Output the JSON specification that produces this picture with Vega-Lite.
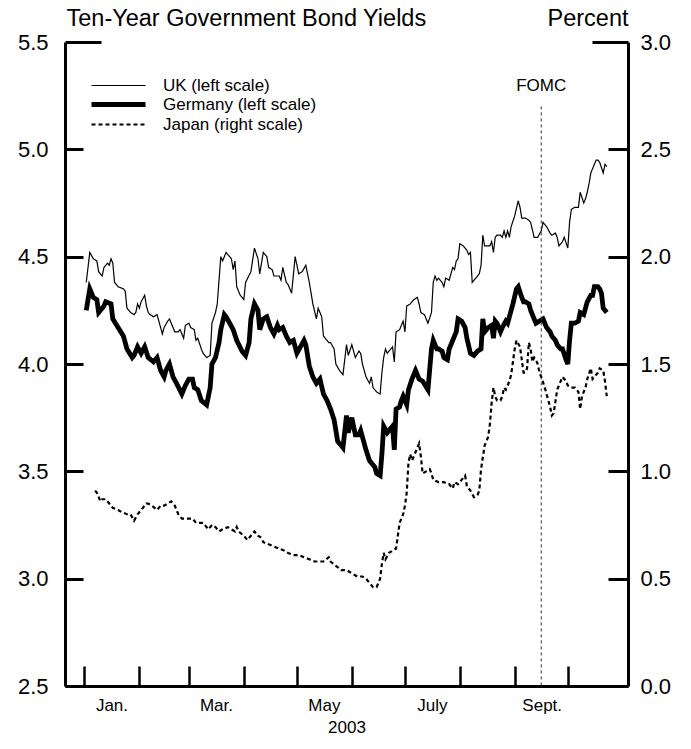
{
 "$schema": "https://vega.github.io/schema/vega-lite/v6.json",
 "width": 563, "height": 644,
 "autosize": "none",
 "padding": {"left": 65, "top": 42, "right": 63, "bottom": 63},
 "background": "white",
 "config": {
  "view": {"stroke": null},
  "font": "Liberation Sans",
  "axis": {"grid": false, "domainColor": "black", "tickColor": "black", "labelColor": "black", "titleColor": "black", "titleFontWeight": "normal", "labelFont": "Liberation Sans", "titleFont": "Liberation Sans"},
  "legend": {"symbolStrokeColor": "black"}
 },
 "datasets": {
  "yields": [
{"s":"UK","d":"2003-01-02","v":4.38},{"s":"UK","d":"2003-01-04","v":4.52},{"s":"UK","d":"2003-01-06","v":4.49},{"s":"UK","d":"2003-01-08","v":4.48},{"s":"UK","d":"2003-01-09","v":4.43},{"s":"UK","d":"2003-01-11","v":4.41},{"s":"UK","d":"2003-01-12","v":4.45},{"s":"UK","d":"2003-01-14","v":4.47},{"s":"UK","d":"2003-01-15","v":4.46},{"s":"UK","d":"2003-01-16","v":4.49},{"s":"UK","d":"2003-01-17","v":4.47},{"s":"UK","d":"2003-01-18","v":4.38},{"s":"UK","d":"2003-01-20","v":4.36},{"s":"UK","d":"2003-01-23","v":4.35},{"s":"UK","d":"2003-01-24","v":4.34},{"s":"UK","d":"2003-01-25","v":4.26},{"s":"UK","d":"2003-01-27","v":4.24},{"s":"UK","d":"2003-01-29","v":4.23},{"s":"UK","d":"2003-01-30","v":4.24},{"s":"UK","d":"2003-01-31","v":4.28},
{"s":"UK","d":"2003-02-01","v":4.26},{"s":"UK","d":"2003-02-02","v":4.29},{"s":"UK","d":"2003-02-04","v":4.32},{"s":"UK","d":"2003-02-05","v":4.27},{"s":"UK","d":"2003-02-06","v":4.24},{"s":"UK","d":"2003-02-07","v":4.23},{"s":"UK","d":"2003-02-09","v":4.22},{"s":"UK","d":"2003-02-11","v":4.23},{"s":"UK","d":"2003-02-12","v":4.20},{"s":"UK","d":"2003-02-14","v":4.14},{"s":"UK","d":"2003-02-15","v":4.17},{"s":"UK","d":"2003-02-17","v":4.20},{"s":"UK","d":"2003-02-18","v":4.21},{"s":"UK","d":"2003-02-20","v":4.17},{"s":"UK","d":"2003-02-21","v":4.15},{"s":"UK","d":"2003-02-23","v":4.15},{"s":"UK","d":"2003-02-24","v":4.16},{"s":"UK","d":"2003-02-26","v":4.12},{"s":"UK","d":"2003-02-27","v":4.18},
{"s":"UK","d":"2003-03-01","v":4.19},{"s":"UK","d":"2003-03-02","v":4.17},{"s":"UK","d":"2003-03-04","v":4.16},{"s":"UK","d":"2003-03-05","v":4.11},{"s":"UK","d":"2003-03-06","v":4.12},{"s":"UK","d":"2003-03-08","v":4.07},{"s":"UK","d":"2003-03-09","v":4.05},{"s":"UK","d":"2003-03-11","v":4.03},{"s":"UK","d":"2003-03-13","v":4.04},{"s":"UK","d":"2003-03-14","v":4.19},{"s":"UK","d":"2003-03-16","v":4.24},{"s":"UK","d":"2003-03-17","v":4.28},{"s":"UK","d":"2003-03-18","v":4.39},{"s":"UK","d":"2003-03-19","v":4.50},{"s":"UK","d":"2003-03-20","v":4.48},{"s":"UK","d":"2003-03-22","v":4.52},{"s":"UK","d":"2003-03-23","v":4.51},{"s":"UK","d":"2003-03-25","v":4.49},{"s":"UK","d":"2003-03-26","v":4.44},{"s":"UK","d":"2003-03-27","v":4.48},{"s":"UK","d":"2003-03-28","v":4.36},{"s":"UK","d":"2003-03-30","v":4.32},
{"s":"UK","d":"2003-04-01","v":4.30},{"s":"UK","d":"2003-04-02","v":4.38},{"s":"UK","d":"2003-04-05","v":4.43},{"s":"UK","d":"2003-04-07","v":4.54},{"s":"UK","d":"2003-04-09","v":4.49},{"s":"UK","d":"2003-04-10","v":4.42},{"s":"UK","d":"2003-04-12","v":4.52},{"s":"UK","d":"2003-04-14","v":4.50},{"s":"UK","d":"2003-04-15","v":4.45},{"s":"UK","d":"2003-04-17","v":4.44},{"s":"UK","d":"2003-04-18","v":4.41},{"s":"UK","d":"2003-04-20","v":4.41},{"s":"UK","d":"2003-04-21","v":4.41},{"s":"UK","d":"2003-04-22","v":4.39},{"s":"UK","d":"2003-04-23","v":4.45},{"s":"UK","d":"2003-04-25","v":4.38},{"s":"UK","d":"2003-04-26","v":4.37},{"s":"UK","d":"2003-04-28","v":4.33},{"s":"UK","d":"2003-04-30","v":4.50},
{"s":"UK","d":"2003-05-02","v":4.42},{"s":"UK","d":"2003-05-04","v":4.43},{"s":"UK","d":"2003-05-06","v":4.46},{"s":"UK","d":"2003-05-08","v":4.38},{"s":"UK","d":"2003-05-10","v":4.28},{"s":"UK","d":"2003-05-12","v":4.21},{"s":"UK","d":"2003-05-13","v":4.26},{"s":"UK","d":"2003-05-15","v":4.22},{"s":"UK","d":"2003-05-16","v":4.13},{"s":"UK","d":"2003-05-19","v":4.10},{"s":"UK","d":"2003-05-20","v":4.10},{"s":"UK","d":"2003-05-22","v":4.07},{"s":"UK","d":"2003-05-23","v":4.00},{"s":"UK","d":"2003-05-25","v":3.97},{"s":"UK","d":"2003-05-27","v":3.95},{"s":"UK","d":"2003-05-29","v":4.09},{"s":"UK","d":"2003-05-30","v":4.04},
{"s":"UK","d":"2003-06-01","v":4.09},{"s":"UK","d":"2003-06-03","v":4.03},{"s":"UK","d":"2003-06-05","v":4.06},{"s":"UK","d":"2003-06-06","v":4.05},{"s":"UK","d":"2003-06-07","v":4.00},{"s":"UK","d":"2003-06-09","v":3.94},{"s":"UK","d":"2003-06-11","v":3.91},{"s":"UK","d":"2003-06-12","v":3.94},{"s":"UK","d":"2003-06-13","v":3.89},{"s":"UK","d":"2003-06-15","v":3.87},{"s":"UK","d":"2003-06-17","v":3.86},{"s":"UK","d":"2003-06-18","v":3.96},{"s":"UK","d":"2003-06-19","v":4.03},{"s":"UK","d":"2003-06-20","v":4.07},{"s":"UK","d":"2003-06-21","v":4.05},{"s":"UK","d":"2003-06-23","v":4.07},{"s":"UK","d":"2003-06-24","v":4.08},{"s":"UK","d":"2003-06-25","v":4.01},{"s":"UK","d":"2003-06-26","v":4.15},{"s":"UK","d":"2003-06-28","v":4.16},{"s":"UK","d":"2003-06-29","v":4.18},{"s":"UK","d":"2003-06-30","v":4.20},
{"s":"UK","d":"2003-07-01","v":4.15},{"s":"UK","d":"2003-07-02","v":4.27},{"s":"UK","d":"2003-07-04","v":4.28},{"s":"UK","d":"2003-07-06","v":4.30},{"s":"UK","d":"2003-07-08","v":4.31},{"s":"UK","d":"2003-07-09","v":4.28},{"s":"UK","d":"2003-07-10","v":4.24},{"s":"UK","d":"2003-07-12","v":4.23},{"s":"UK","d":"2003-07-14","v":4.19},{"s":"UK","d":"2003-07-16","v":4.24},{"s":"UK","d":"2003-07-17","v":4.38},{"s":"UK","d":"2003-07-18","v":4.41},{"s":"UK","d":"2003-07-19","v":4.39},{"s":"UK","d":"2003-07-20","v":4.40},{"s":"UK","d":"2003-07-22","v":4.38},{"s":"UK","d":"2003-07-23","v":4.36},{"s":"UK","d":"2003-07-24","v":4.40},{"s":"UK","d":"2003-07-26","v":4.39},{"s":"UK","d":"2003-07-28","v":4.45},{"s":"UK","d":"2003-07-29","v":4.44},{"s":"UK","d":"2003-07-30","v":4.48},{"s":"UK","d":"2003-07-31","v":4.49},
{"s":"UK","d":"2003-08-01","v":4.56},{"s":"UK","d":"2003-08-03","v":4.55},{"s":"UK","d":"2003-08-05","v":4.53},{"s":"UK","d":"2003-08-06","v":4.51},{"s":"UK","d":"2003-08-07","v":4.52},{"s":"UK","d":"2003-08-08","v":4.38},{"s":"UK","d":"2003-08-10","v":4.40},{"s":"UK","d":"2003-08-12","v":4.42},{"s":"UK","d":"2003-08-13","v":4.46},{"s":"UK","d":"2003-08-14","v":4.60},{"s":"UK","d":"2003-08-15","v":4.55},{"s":"UK","d":"2003-08-18","v":4.55},{"s":"UK","d":"2003-08-19","v":4.57},{"s":"UK","d":"2003-08-20","v":4.52},{"s":"UK","d":"2003-08-21","v":4.59},{"s":"UK","d":"2003-08-22","v":4.60},{"s":"UK","d":"2003-08-24","v":4.60},{"s":"UK","d":"2003-08-25","v":4.59},{"s":"UK","d":"2003-08-26","v":4.62},{"s":"UK","d":"2003-08-27","v":4.59},{"s":"UK","d":"2003-08-28","v":4.62},{"s":"UK","d":"2003-08-29","v":4.59},{"s":"UK","d":"2003-08-30","v":4.64},
{"s":"UK","d":"2003-09-01","v":4.69},{"s":"UK","d":"2003-09-03","v":4.76},{"s":"UK","d":"2003-09-04","v":4.73},{"s":"UK","d":"2003-09-05","v":4.68},{"s":"UK","d":"2003-09-07","v":4.68},{"s":"UK","d":"2003-09-09","v":4.67},{"s":"UK","d":"2003-09-10","v":4.66},{"s":"UK","d":"2003-09-12","v":4.59},{"s":"UK","d":"2003-09-14","v":4.59},{"s":"UK","d":"2003-09-16","v":4.62},{"s":"UK","d":"2003-09-17","v":4.66},{"s":"UK","d":"2003-09-19","v":4.64},{"s":"UK","d":"2003-09-21","v":4.61},{"s":"UK","d":"2003-09-22","v":4.60},{"s":"UK","d":"2003-09-24","v":4.61},{"s":"UK","d":"2003-09-25","v":4.59},{"s":"UK","d":"2003-09-26","v":4.55},{"s":"UK","d":"2003-09-28","v":4.57},{"s":"UK","d":"2003-09-29","v":4.59},
{"s":"UK","d":"2003-10-01","v":4.54},{"s":"UK","d":"2003-10-02","v":4.66},{"s":"UK","d":"2003-10-03","v":4.72},{"s":"UK","d":"2003-10-05","v":4.73},{"s":"UK","d":"2003-10-07","v":4.73},{"s":"UK","d":"2003-10-08","v":4.80},{"s":"UK","d":"2003-10-10","v":4.75},{"s":"UK","d":"2003-10-11","v":4.77},{"s":"UK","d":"2003-10-12","v":4.80},{"s":"UK","d":"2003-10-13","v":4.84},{"s":"UK","d":"2003-10-14","v":4.89},{"s":"UK","d":"2003-10-15","v":4.91},{"s":"UK","d":"2003-10-17","v":4.95},{"s":"UK","d":"2003-10-18","v":4.95},{"s":"UK","d":"2003-10-19","v":4.94},{"s":"UK","d":"2003-10-21","v":4.89},{"s":"UK","d":"2003-10-22","v":4.93},{"s":"UK","d":"2003-10-23","v":4.92},

{"s":"Germany","d":"2003-01-02","v":4.25},{"s":"Germany","d":"2003-01-04","v":4.35},{"s":"Germany","d":"2003-01-06","v":4.31},{"s":"Germany","d":"2003-01-08","v":4.30},{"s":"Germany","d":"2003-01-09","v":4.24},{"s":"Germany","d":"2003-01-12","v":4.27},{"s":"Germany","d":"2003-01-13","v":4.29},{"s":"Germany","d":"2003-01-16","v":4.28},{"s":"Germany","d":"2003-01-17","v":4.21},{"s":"Germany","d":"2003-01-20","v":4.17},{"s":"Germany","d":"2003-01-23","v":4.13},{"s":"Germany","d":"2003-01-25","v":4.07},{"s":"Germany","d":"2003-01-28","v":4.03},{"s":"Germany","d":"2003-01-29","v":4.04},{"s":"Germany","d":"2003-01-31","v":4.08},
{"s":"Germany","d":"2003-02-02","v":4.05},{"s":"Germany","d":"2003-02-04","v":4.08},{"s":"Germany","d":"2003-02-06","v":4.03},{"s":"Germany","d":"2003-02-09","v":4.01},{"s":"Germany","d":"2003-02-11","v":4.03},{"s":"Germany","d":"2003-02-13","v":3.97},{"s":"Germany","d":"2003-02-15","v":3.94},{"s":"Germany","d":"2003-02-16","v":3.97},{"s":"Germany","d":"2003-02-18","v":4.00},{"s":"Germany","d":"2003-02-20","v":3.94},{"s":"Germany","d":"2003-02-22","v":3.91},{"s":"Germany","d":"2003-02-25","v":3.86},{"s":"Germany","d":"2003-02-27","v":3.90},
{"s":"Germany","d":"2003-03-01","v":3.93},{"s":"Germany","d":"2003-03-03","v":3.93},{"s":"Germany","d":"2003-03-04","v":3.89},{"s":"Germany","d":"2003-03-06","v":3.88},{"s":"Germany","d":"2003-03-08","v":3.83},{"s":"Germany","d":"2003-03-11","v":3.81},{"s":"Germany","d":"2003-03-13","v":3.89},{"s":"Germany","d":"2003-03-14","v":4.00},{"s":"Germany","d":"2003-03-16","v":4.03},{"s":"Germany","d":"2003-03-18","v":4.10},{"s":"Germany","d":"2003-03-19","v":4.16},{"s":"Germany","d":"2003-03-21","v":4.23},{"s":"Germany","d":"2003-03-22","v":4.22},{"s":"Germany","d":"2003-03-24","v":4.19},{"s":"Germany","d":"2003-03-26","v":4.16},{"s":"Germany","d":"2003-03-28","v":4.11},{"s":"Germany","d":"2003-03-31","v":4.06},
{"s":"Germany","d":"2003-04-02","v":4.04},{"s":"Germany","d":"2003-04-04","v":4.10},{"s":"Germany","d":"2003-04-05","v":4.21},{"s":"Germany","d":"2003-04-07","v":4.28},{"s":"Germany","d":"2003-04-09","v":4.25},{"s":"Germany","d":"2003-04-10","v":4.16},{"s":"Germany","d":"2003-04-12","v":4.21},{"s":"Germany","d":"2003-04-14","v":4.22},{"s":"Germany","d":"2003-04-16","v":4.17},{"s":"Germany","d":"2003-04-18","v":4.14},{"s":"Germany","d":"2003-04-20","v":4.18},{"s":"Germany","d":"2003-04-21","v":4.16},{"s":"Germany","d":"2003-04-23","v":4.17},{"s":"Germany","d":"2003-04-25","v":4.13},{"s":"Germany","d":"2003-04-27","v":4.10},{"s":"Germany","d":"2003-04-29","v":4.11},
{"s":"Germany","d":"2003-05-01","v":4.05},{"s":"Germany","d":"2003-05-03","v":4.08},{"s":"Germany","d":"2003-05-05","v":4.11},{"s":"Germany","d":"2003-05-06","v":4.09},{"s":"Germany","d":"2003-05-08","v":3.99},{"s":"Germany","d":"2003-05-10","v":3.94},{"s":"Germany","d":"2003-05-12","v":3.91},{"s":"Germany","d":"2003-05-14","v":3.93},{"s":"Germany","d":"2003-05-16","v":3.86},{"s":"Germany","d":"2003-05-18","v":3.83},{"s":"Germany","d":"2003-05-20","v":3.79},{"s":"Germany","d":"2003-05-22","v":3.74},{"s":"Germany","d":"2003-05-23","v":3.69},{"s":"Germany","d":"2003-05-24","v":3.64},{"s":"Germany","d":"2003-05-27","v":3.61},{"s":"Germany","d":"2003-05-29","v":3.76},{"s":"Germany","d":"2003-05-30","v":3.68},
{"s":"Germany","d":"2003-06-01","v":3.75},{"s":"Germany","d":"2003-06-03","v":3.67},{"s":"Germany","d":"2003-06-05","v":3.67},{"s":"Germany","d":"2003-06-06","v":3.69},{"s":"Germany","d":"2003-06-08","v":3.63},{"s":"Germany","d":"2003-06-09","v":3.60},{"s":"Germany","d":"2003-06-11","v":3.55},{"s":"Germany","d":"2003-06-12","v":3.54},{"s":"Germany","d":"2003-06-14","v":3.52},{"s":"Germany","d":"2003-06-15","v":3.49},{"s":"Germany","d":"2003-06-17","v":3.48},{"s":"Germany","d":"2003-06-18","v":3.58},{"s":"Germany","d":"2003-06-19","v":3.71},{"s":"Germany","d":"2003-06-21","v":3.68},{"s":"Germany","d":"2003-06-23","v":3.70},{"s":"Germany","d":"2003-06-24","v":3.71},{"s":"Germany","d":"2003-06-25","v":3.60},{"s":"Germany","d":"2003-06-26","v":3.79},{"s":"Germany","d":"2003-06-28","v":3.80},{"s":"Germany","d":"2003-06-29","v":3.83},{"s":"Germany","d":"2003-06-30","v":3.85},
{"s":"Germany","d":"2003-07-02","v":3.81},{"s":"Germany","d":"2003-07-03","v":3.88},{"s":"Germany","d":"2003-07-05","v":3.93},{"s":"Germany","d":"2003-07-07","v":3.97},{"s":"Germany","d":"2003-07-09","v":3.93},{"s":"Germany","d":"2003-07-11","v":3.92},{"s":"Germany","d":"2003-07-14","v":3.88},{"s":"Germany","d":"2003-07-16","v":4.07},{"s":"Germany","d":"2003-07-17","v":4.11},{"s":"Germany","d":"2003-07-19","v":4.07},{"s":"Germany","d":"2003-07-20","v":4.07},{"s":"Germany","d":"2003-07-22","v":4.06},{"s":"Germany","d":"2003-07-23","v":4.03},{"s":"Germany","d":"2003-07-25","v":4.02},{"s":"Germany","d":"2003-07-26","v":4.07},{"s":"Germany","d":"2003-07-28","v":4.11},{"s":"Germany","d":"2003-07-30","v":4.15},{"s":"Germany","d":"2003-07-31","v":4.21},
{"s":"Germany","d":"2003-08-02","v":4.20},{"s":"Germany","d":"2003-08-04","v":4.17},{"s":"Germany","d":"2003-08-05","v":4.12},{"s":"Germany","d":"2003-08-07","v":4.05},{"s":"Germany","d":"2003-08-09","v":4.04},{"s":"Germany","d":"2003-08-11","v":4.06},{"s":"Germany","d":"2003-08-13","v":4.07},{"s":"Germany","d":"2003-08-14","v":4.21},{"s":"Germany","d":"2003-08-15","v":4.15},{"s":"Germany","d":"2003-08-17","v":4.17},{"s":"Germany","d":"2003-08-19","v":4.18},{"s":"Germany","d":"2003-08-20","v":4.12},{"s":"Germany","d":"2003-08-21","v":4.20},{"s":"Germany","d":"2003-08-22","v":4.19},{"s":"Germany","d":"2003-08-24","v":4.15},{"s":"Germany","d":"2003-08-25","v":4.17},{"s":"Germany","d":"2003-08-27","v":4.20},{"s":"Germany","d":"2003-08-28","v":4.19},{"s":"Germany","d":"2003-08-29","v":4.22},{"s":"Germany","d":"2003-08-31","v":4.28},
{"s":"Germany","d":"2003-09-02","v":4.35},{"s":"Germany","d":"2003-09-03","v":4.36},{"s":"Germany","d":"2003-09-05","v":4.31},{"s":"Germany","d":"2003-09-06","v":4.29},{"s":"Germany","d":"2003-09-07","v":4.29},{"s":"Germany","d":"2003-09-09","v":4.28},{"s":"Germany","d":"2003-09-10","v":4.25},{"s":"Germany","d":"2003-09-12","v":4.21},{"s":"Germany","d":"2003-09-13","v":4.19},{"s":"Germany","d":"2003-09-15","v":4.20},{"s":"Germany","d":"2003-09-17","v":4.21},{"s":"Germany","d":"2003-09-19","v":4.17},{"s":"Germany","d":"2003-09-21","v":4.15},{"s":"Germany","d":"2003-09-22","v":4.13},{"s":"Germany","d":"2003-09-24","v":4.11},{"s":"Germany","d":"2003-09-25","v":4.09},{"s":"Germany","d":"2003-09-27","v":4.07},{"s":"Germany","d":"2003-09-28","v":4.07},{"s":"Germany","d":"2003-09-30","v":4.02},
{"s":"Germany","d":"2003-10-01","v":4.00},{"s":"Germany","d":"2003-10-02","v":4.11},{"s":"Germany","d":"2003-10-03","v":4.19},{"s":"Germany","d":"2003-10-05","v":4.19},{"s":"Germany","d":"2003-10-07","v":4.20},{"s":"Germany","d":"2003-10-08","v":4.24},{"s":"Germany","d":"2003-10-10","v":4.23},{"s":"Germany","d":"2003-10-11","v":4.26},{"s":"Germany","d":"2003-10-12","v":4.29},{"s":"Germany","d":"2003-10-14","v":4.32},{"s":"Germany","d":"2003-10-15","v":4.32},{"s":"Germany","d":"2003-10-16","v":4.36},{"s":"Germany","d":"2003-10-18","v":4.36},{"s":"Germany","d":"2003-10-19","v":4.35},{"s":"Germany","d":"2003-10-20","v":4.33},{"s":"Germany","d":"2003-10-21","v":4.26},{"s":"Germany","d":"2003-10-23","v":4.24},

{"s":"Japan","d":"2003-01-07","v":0.91},{"s":"Japan","d":"2003-01-08","v":0.90},{"s":"Japan","d":"2003-01-10","v":0.86},{"s":"Japan","d":"2003-01-11","v":0.87},{"s":"Japan","d":"2003-01-13","v":0.87},{"s":"Japan","d":"2003-01-15","v":0.85},{"s":"Japan","d":"2003-01-17","v":0.83},{"s":"Japan","d":"2003-01-20","v":0.82},{"s":"Japan","d":"2003-01-22","v":0.81},{"s":"Japan","d":"2003-01-25","v":0.80},{"s":"Japan","d":"2003-01-27","v":0.80},{"s":"Japan","d":"2003-01-29","v":0.77},{"s":"Japan","d":"2003-01-31","v":0.80},
{"s":"Japan","d":"2003-02-02","v":0.82},{"s":"Japan","d":"2003-02-05","v":0.85},{"s":"Japan","d":"2003-02-06","v":0.85},{"s":"Japan","d":"2003-02-08","v":0.84},{"s":"Japan","d":"2003-02-11","v":0.82},{"s":"Japan","d":"2003-02-13","v":0.84},{"s":"Japan","d":"2003-02-15","v":0.84},{"s":"Japan","d":"2003-02-17","v":0.85},{"s":"Japan","d":"2003-02-19","v":0.86},{"s":"Japan","d":"2003-02-21","v":0.84},{"s":"Japan","d":"2003-02-23","v":0.80},{"s":"Japan","d":"2003-02-25","v":0.78},{"s":"Japan","d":"2003-02-28","v":0.78},
{"s":"Japan","d":"2003-03-03","v":0.78},{"s":"Japan","d":"2003-03-05","v":0.76},{"s":"Japan","d":"2003-03-07","v":0.76},{"s":"Japan","d":"2003-03-09","v":0.76},{"s":"Japan","d":"2003-03-10","v":0.75},{"s":"Japan","d":"2003-03-12","v":0.73},{"s":"Japan","d":"2003-03-14","v":0.75},{"s":"Japan","d":"2003-03-16","v":0.74},{"s":"Japan","d":"2003-03-18","v":0.72},{"s":"Japan","d":"2003-03-20","v":0.73},{"s":"Japan","d":"2003-03-23","v":0.74},{"s":"Japan","d":"2003-03-25","v":0.73},{"s":"Japan","d":"2003-03-27","v":0.72},{"s":"Japan","d":"2003-03-28","v":0.74},{"s":"Japan","d":"2003-03-29","v":0.72},
{"s":"Japan","d":"2003-04-01","v":0.70},{"s":"Japan","d":"2003-04-03","v":0.68},{"s":"Japan","d":"2003-04-05","v":0.70},{"s":"Japan","d":"2003-04-07","v":0.72},{"s":"Japan","d":"2003-04-09","v":0.70},{"s":"Japan","d":"2003-04-11","v":0.69},{"s":"Japan","d":"2003-04-12","v":0.67},{"s":"Japan","d":"2003-04-15","v":0.66},{"s":"Japan","d":"2003-04-18","v":0.65},{"s":"Japan","d":"2003-04-21","v":0.64},{"s":"Japan","d":"2003-04-24","v":0.63},{"s":"Japan","d":"2003-04-26","v":0.62},{"s":"Japan","d":"2003-04-29","v":0.61},
{"s":"Japan","d":"2003-05-02","v":0.61},{"s":"Japan","d":"2003-05-05","v":0.60},{"s":"Japan","d":"2003-05-08","v":0.59},{"s":"Japan","d":"2003-05-11","v":0.58},{"s":"Japan","d":"2003-05-13","v":0.58},{"s":"Japan","d":"2003-05-16","v":0.58},{"s":"Japan","d":"2003-05-19","v":0.60},{"s":"Japan","d":"2003-05-20","v":0.58},{"s":"Japan","d":"2003-05-23","v":0.56},{"s":"Japan","d":"2003-05-26","v":0.54},{"s":"Japan","d":"2003-05-29","v":0.54},{"s":"Japan","d":"2003-05-31","v":0.53},
{"s":"Japan","d":"2003-06-02","v":0.52},{"s":"Japan","d":"2003-06-04","v":0.51},{"s":"Japan","d":"2003-06-07","v":0.51},{"s":"Japan","d":"2003-06-09","v":0.50},{"s":"Japan","d":"2003-06-11","v":0.48},{"s":"Japan","d":"2003-06-13","v":0.46},{"s":"Japan","d":"2003-06-15","v":0.46},{"s":"Japan","d":"2003-06-17","v":0.50},{"s":"Japan","d":"2003-06-18","v":0.57},{"s":"Japan","d":"2003-06-19","v":0.62},{"s":"Japan","d":"2003-06-20","v":0.59},{"s":"Japan","d":"2003-06-22","v":0.62},{"s":"Japan","d":"2003-06-24","v":0.63},{"s":"Japan","d":"2003-06-26","v":0.64},{"s":"Japan","d":"2003-06-27","v":0.70},{"s":"Japan","d":"2003-06-28","v":0.76},{"s":"Japan","d":"2003-06-30","v":0.80},
{"s":"Japan","d":"2003-07-01","v":0.84},{"s":"Japan","d":"2003-07-02","v":0.90},{"s":"Japan","d":"2003-07-03","v":1.04},{"s":"Japan","d":"2003-07-04","v":1.08},{"s":"Japan","d":"2003-07-05","v":1.05},{"s":"Japan","d":"2003-07-07","v":1.09},{"s":"Japan","d":"2003-07-09","v":1.13},{"s":"Japan","d":"2003-07-10","v":1.07},{"s":"Japan","d":"2003-07-11","v":0.99},{"s":"Japan","d":"2003-07-13","v":1.00},{"s":"Japan","d":"2003-07-15","v":1.01},{"s":"Japan","d":"2003-07-16","v":0.99},{"s":"Japan","d":"2003-07-17","v":0.96},{"s":"Japan","d":"2003-07-20","v":0.95},{"s":"Japan","d":"2003-07-23","v":0.95},{"s":"Japan","d":"2003-07-25","v":0.94},{"s":"Japan","d":"2003-07-26","v":0.94},{"s":"Japan","d":"2003-07-28","v":0.92},{"s":"Japan","d":"2003-07-29","v":0.95},{"s":"Japan","d":"2003-07-31","v":0.94},
{"s":"Japan","d":"2003-08-02","v":0.96},{"s":"Japan","d":"2003-08-04","v":0.98},{"s":"Japan","d":"2003-08-05","v":0.93},{"s":"Japan","d":"2003-08-07","v":0.91},{"s":"Japan","d":"2003-08-09","v":0.88},{"s":"Japan","d":"2003-08-11","v":0.89},{"s":"Japan","d":"2003-08-12","v":0.91},{"s":"Japan","d":"2003-08-13","v":1.01},{"s":"Japan","d":"2003-08-15","v":1.12},{"s":"Japan","d":"2003-08-17","v":1.16},{"s":"Japan","d":"2003-08-18","v":1.22},{"s":"Japan","d":"2003-08-19","v":1.32},{"s":"Japan","d":"2003-08-20","v":1.39},{"s":"Japan","d":"2003-08-21","v":1.35},{"s":"Japan","d":"2003-08-22","v":1.33},{"s":"Japan","d":"2003-08-24","v":1.33},{"s":"Japan","d":"2003-08-25","v":1.35},{"s":"Japan","d":"2003-08-26","v":1.39},{"s":"Japan","d":"2003-08-27","v":1.38},{"s":"Japan","d":"2003-08-29","v":1.42},{"s":"Japan","d":"2003-08-30","v":1.45},{"s":"Japan","d":"2003-08-31","v":1.51},
{"s":"Japan","d":"2003-09-01","v":1.57},{"s":"Japan","d":"2003-09-02","v":1.61},{"s":"Japan","d":"2003-09-04","v":1.58},{"s":"Japan","d":"2003-09-05","v":1.52},{"s":"Japan","d":"2003-09-06","v":1.46},{"s":"Japan","d":"2003-09-07","v":1.46},{"s":"Japan","d":"2003-09-08","v":1.48},{"s":"Japan","d":"2003-09-09","v":1.60},{"s":"Japan","d":"2003-09-10","v":1.57},{"s":"Japan","d":"2003-09-11","v":1.51},{"s":"Japan","d":"2003-09-12","v":1.53},{"s":"Japan","d":"2003-09-13","v":1.52},{"s":"Japan","d":"2003-09-14","v":1.50},{"s":"Japan","d":"2003-09-15","v":1.46},{"s":"Japan","d":"2003-09-16","v":1.44},{"s":"Japan","d":"2003-09-18","v":1.39},{"s":"Japan","d":"2003-09-19","v":1.36},{"s":"Japan","d":"2003-09-21","v":1.30},{"s":"Japan","d":"2003-09-22","v":1.26},{"s":"Japan","d":"2003-09-23","v":1.27},{"s":"Japan","d":"2003-09-25","v":1.38},{"s":"Japan","d":"2003-09-27","v":1.42},{"s":"Japan","d":"2003-09-28","v":1.44},{"s":"Japan","d":"2003-09-30","v":1.42},
{"s":"Japan","d":"2003-10-01","v":1.40},{"s":"Japan","d":"2003-10-03","v":1.39},{"s":"Japan","d":"2003-10-05","v":1.39},{"s":"Japan","d":"2003-10-07","v":1.37},{"s":"Japan","d":"2003-10-08","v":1.29},{"s":"Japan","d":"2003-10-09","v":1.35},{"s":"Japan","d":"2003-10-11","v":1.39},{"s":"Japan","d":"2003-10-12","v":1.43},{"s":"Japan","d":"2003-10-14","v":1.48},{"s":"Japan","d":"2003-10-15","v":1.43},{"s":"Japan","d":"2003-10-16","v":1.44},{"s":"Japan","d":"2003-10-18","v":1.46},{"s":"Japan","d":"2003-10-19","v":1.48},{"s":"Japan","d":"2003-10-21","v":1.47},{"s":"Japan","d":"2003-10-22","v":1.42},{"s":"Japan","d":"2003-10-23","v":1.35}
  ],
  "fomc": [{"d": "2003-09-16", "label": "FOMC"}]
 },
 "layer": [
  {
   "layer": [
    {
     "data": {"name": "yields"},
     "transform": [{"filter": "datum.s === 'UK'"}],
     "mark": {"type": "line", "color": "black", "strokeWidth": 1.2},
     "encoding": {
      "x": {"field": "d", "type": "temporal",
        "scale": {"type": "utc", "domain": [{"year": 2002, "month": 12, "date": 21, "utc": true}, {"year": 2003, "month": 11, "date": 4, "utc": true}]},
        "axis": {
          "values": [{"year":2003,"month":1,"date":1,"utc":true},{"year":2003,"month":2,"date":1,"utc":true},{"year":2003,"month":3,"date":1,"utc":true},{"year":2003,"month":4,"date":1,"utc":true},{"year":2003,"month":5,"date":1,"utc":true},{"year":2003,"month":6,"date":1,"utc":true},{"year":2003,"month":7,"date":1,"utc":true},{"year":2003,"month":8,"date":1,"utc":true},{"year":2003,"month":9,"date":1,"utc":true},{"year":2003,"month":10,"date":1,"utc":true}],
          "labelExpr": "['Jan.','','Mar.','','May','','July','','Sept.','','',''][utcmonth(datum.value)]",
          "tickSize": -20, "tickWidth": 2.5, "domainWidth": 3,
          "labelOffset": 27, "labelPadding": 31, "labelFontSize": 17, "labelOverlap": false, "labelFlush": false, "labelBound": false,
          "title": "2003", "titleFontSize": 17, "titlePadding": 6
        }},
      "y": {"field": "v", "type": "quantitative",
        "scale": {"domain": [2.5, 5.5], "zero": false, "nice": false},
        "axis": {
          "values": [2.5, 3, 3.5, 4, 4.5, 5, 5.5], "format": ".1f",
          "tickSize": {"condition": {"test": "datum.value === 5.5", "value": -36}, "value": -18},
          "labelPadding": {"condition": {"test": "datum.value === 5.5", "value": 53}, "value": 35},
          "tickWidth": 3, "domainWidth": 3, "labelFontSize": 22,
          "title": "Ten-Year Government Bond Yields", "titleAngle": 0, "titleAlign": "left", "titleBaseline": "alphabetic",
          "titleX": 1, "titleY": -17, "titleFontSize": 23.5
        }},
      "strokeDash": {"field": "s", "type": "nominal",
        "scale": {"domain": ["UK", "Germany", "Japan"], "range": [[1, 0], [1, 0], [4, 3]]},
        "legend": {
          "orient": "none", "legendX": 45, "legendY": 35, "title": null,
          "symbolType": "stroke", "symbolSize": 2916, "symbolStrokeColor": "black",
          "labelFontSize": 17, "labelFont": "Liberation Sans", "labelColor": "black", "labelOffset": 36, "rowPadding": 0,
          "labelExpr": "datum.label + (datum.label === 'Japan' ? ' (right scale)' : ' (left scale)')",
          "encode": {"symbols": {"update": {"strokeWidth": {"signal": "datum.value === 'Germany' ? 5 : (datum.value === 'Japan' ? 2.2 : 1.2)"}}}}
        }}
     }
    },
    {
     "data": {"name": "yields"},
     "transform": [{"filter": "datum.s === 'Germany'"}],
     "mark": {"type": "line", "color": "black", "strokeWidth": 4.8},
     "encoding": {
      "x": {"field": "d", "type": "temporal"},
      "y": {"field": "v", "type": "quantitative"},
      "strokeDash": {"field": "s", "type": "nominal"}
     }
    },
    {
     "data": {"name": "fomc"},
     "mark": {"type": "rule", "color": "#333333", "strokeWidth": 1, "strokeDash": [3, 3]},
     "encoding": {
      "x": {"field": "d", "type": "temporal"},
      "y": {"datum": 5.2, "type": "quantitative"},
      "y2": {"datum": 2.5}
     }
    },
    {
     "data": {"name": "fomc"},
     "mark": {"type": "text", "fontSize": 17, "baseline": "alphabetic", "align": "center", "color": "black", "font": "Liberation Sans"},
     "encoding": {
      "x": {"field": "d", "type": "temporal"},
      "y": {"datum": 5.27, "type": "quantitative"},
      "text": {"field": "label"}
     }
    }
   ]
  },
  {
   "data": {"name": "yields"},
   "transform": [{"filter": "datum.s === 'Japan'"}],
   "mark": {"type": "line", "color": "black", "strokeWidth": 2.2},
   "encoding": {
    "x": {"field": "d", "type": "temporal"},
    "y": {"field": "v", "type": "quantitative",
      "scale": {"domain": [0, 3], "zero": false, "nice": false},
      "axis": {
        "orient": "right",
        "values": [0, 0.5, 1, 1.5, 2, 2.5, 3], "format": ".1f",
        "tickSize": {"condition": {"test": "datum.value === 3", "value": -36}, "value": -20},
        "labelPadding": {"condition": {"test": "datum.value === 3", "value": 48}, "value": 32},
        "tickWidth": 3, "domainWidth": 3, "labelFontSize": 22,
        "title": "Percent", "titleAngle": 0, "titleAlign": "right", "titleBaseline": "alphabetic",
        "titleX": 0, "titleY": -17, "titleFontSize": 23.5
      }},
    "strokeDash": {"field": "s", "type": "nominal"}
   }
  }
 ],
 "resolve": {"scale": {"y": "independent"}}
}
